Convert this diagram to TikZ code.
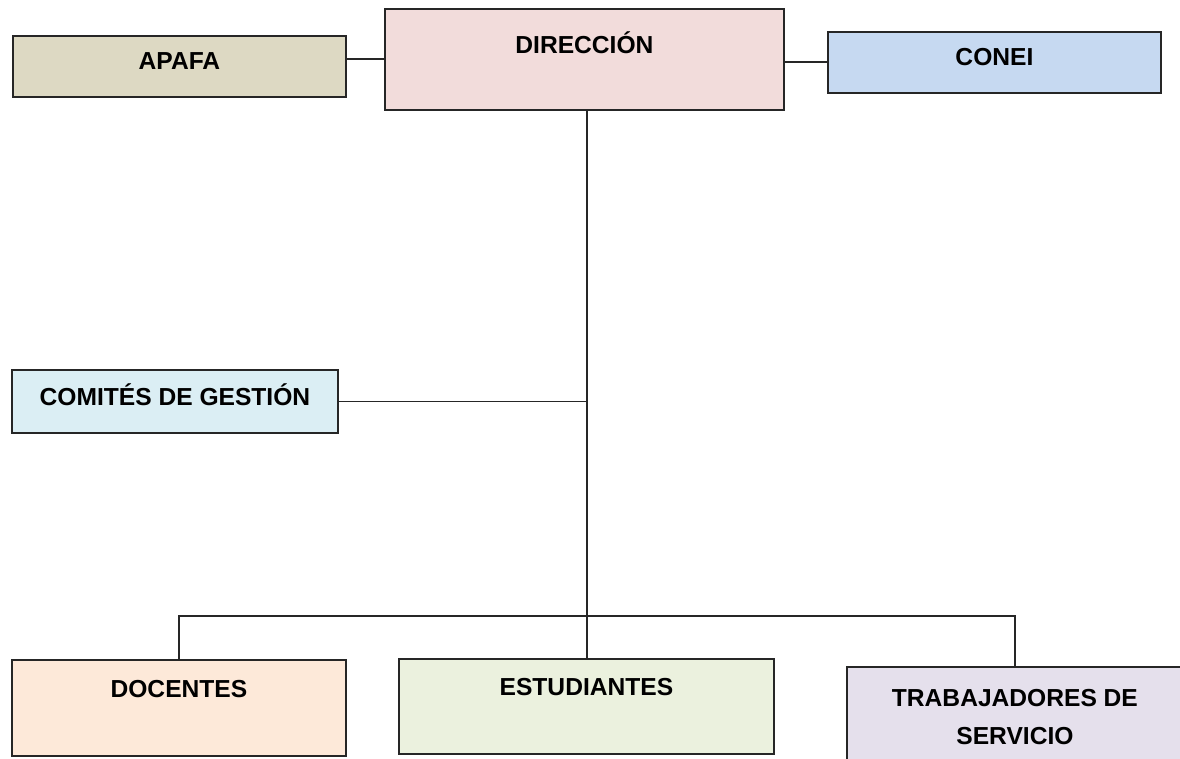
\documentclass[tikz,border=0pt]{standalone}
\usepackage{fontspec}
\setmainfont{Liberation Sans}
\definecolor{cApafa}{HTML}{DDD9C3}
\definecolor{cDir}{HTML}{F2DCDB}
\definecolor{cConei}{HTML}{C6D9F1}
\definecolor{cComite}{HTML}{DBEEF4}
\definecolor{cDoc}{HTML}{FDE9D9}
\definecolor{cEst}{HTML}{EBF1DE}
\definecolor{cTrab}{HTML}{E5E0EC}
\tikzset{
  caja/.style={draw=black!85, line width=1.1pt, anchor=north west, inner sep=0pt,
    align=center, text height=0.35cm, font=\fontsize{14}{21.6}\selectfont\bfseries},
  linea/.style={draw=black!85, line width=1.1pt}
}
\begin{document}
\begin{tikzpicture}[x=0.02cm, y=-0.02cm]
    \useasboundingbox (0,0) rectangle (1180,758);

    \node[caja, fill=cApafa, minimum width=6.66cm, minimum height=1.22cm, text depth=0.22cm] (apafa) at (12,35) {APAFA};
    \node[caja, fill=cDir, minimum width=7.98cm, minimum height=2.02cm, text depth=0.58cm] (direccion) at (384,8) {DIRECCIÓN};
    \node[caja, fill=cConei, minimum width=6.66cm, minimum height=1.22cm, text depth=0.22cm] (conei) at (827,31) {CONEI};
    \node[caja, fill=cComite, minimum width=6.52cm, minimum height=1.26cm, text depth=0.18cm] (comites) at (11,369) {COMITÉS DE GESTIÓN};

    \node[caja, fill=cDoc, minimum width=6.68cm, minimum height=1.92cm, text depth=0.78cm] (docentes) at (11,659) {DOCENTES};
    \node[caja, fill=cEst, minimum width=7.5cm, minimum height=1.9cm, text depth=0.76cm] (estudiantes) at (398,657.7) {ESTUDIANTES};
    \node[caja, fill=cTrab, minimum width=6.72cm, minimum height=2cm, text height=, text depth=] (trabajadores) at (846,665.7) {TRABAJADORES DE\\SERVICIO};

    \coordinate (bus) at (587,615.7);

    \draw[linea] (direccion.west) -- (direccion.west -| apafa.east);
    \draw[linea] (conei.west) -- (conei.west -| direccion.east);
    \draw[linea] (direccion.south -| bus) -- (estudiantes.north -| bus);
    \draw[linea] (comites.east) -- (comites.east -| bus);
    \draw[linea] (docentes.north) |- (bus) -| (trabajadores.north);
  \end{tikzpicture}
\end{document}
